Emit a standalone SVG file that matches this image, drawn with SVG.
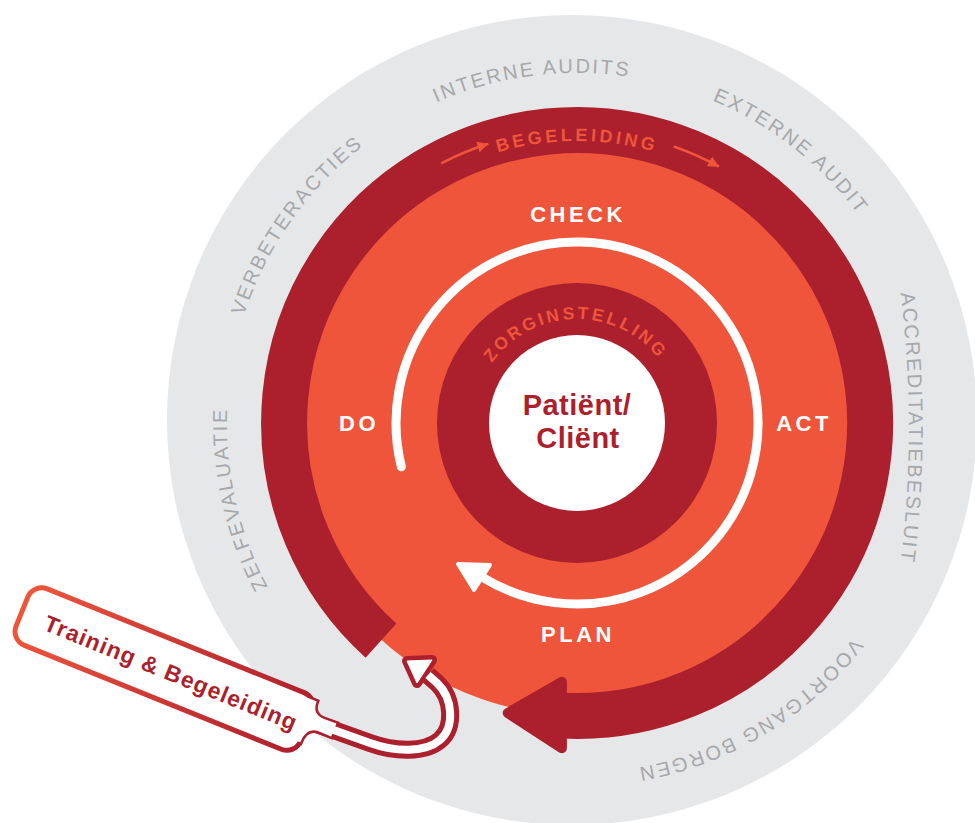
<svg xmlns="http://www.w3.org/2000/svg" width="975" height="823" viewBox="0 0 975 823">
<defs>
<style>
.ring-label{font-family:"Liberation Sans",Arial,sans-serif;font-size:20px;fill:#a6a8ab;letter-spacing:2.3px}
.pdca{font-family:"Liberation Sans",Arial,sans-serif;font-size:22px;font-weight:bold;fill:#ffffff;letter-spacing:3.5px;text-anchor:middle}
.arc-label{font-family:"Liberation Sans",Arial,sans-serif;fill:#ee553b;font-weight:bold}
.center-label{font-family:"Liberation Sans",Arial,sans-serif;font-size:29px;font-weight:bold;fill:#ac1f2d;letter-spacing:0.5px;text-anchor:middle}
.callout-label{font-family:"Liberation Sans",Arial,sans-serif;font-size:23px;font-weight:bold;fill:#ac1f2d;letter-spacing:1px}
.dark{fill:#ac1f2d}
.orange{fill:#ee553b}
.small-arrow{fill:none;stroke:#ee553b;stroke-width:2.5;marker-end:url(#ah)}
</style>
<marker id="ah" markerUnits="userSpaceOnUse" viewBox="0 0 10 10" markerWidth="11" markerHeight="11" refX="10" refY="5" orient="auto">
<path d="M0,0 L10,5 L0,10 z" fill="#ee553b"/>
</marker>
<linearGradient id="cg" gradientUnits="userSpaceOnUse" x1="0" y1="0" x2="312" y2="0">
<stop offset="0" stop-color="#ee553b"/>
<stop offset="1" stop-color="#ac1f2d"/>
</linearGradient>
<path id="p-verbeter" d="M232.1,482.6 A350,350 0 0 1 517.4,78.1"/>
<path id="p-interne" d="M299.3,209.9 A350,350 0 0 1 790.1,145.3"/>
<path id="p-externe" d="M535.6,75.5 A350,350 0 0 1 924.5,381.6"/>
<path id="p-accred" d="M896,260 A1100,1100 0 0 1 896,596"/>
<path id="p-voortgang" d="M916.6,507.7 A350,350 0 0 1 492.3,762.6"/>
<path id="p-zelf" d="M390.0,718.9 A350,350 0 0 1 281.1,236.0"/>
<path id="p-begel" d="M377.6,223.6 A282,282 0 0 1 776.4,223.6"/>
<path id="p-zorg" d="M473,425 A104,104 0 0 1 681,421"/>
<path id="tube" d="M300,718 L370,743 C395,752 425,753 440,740 C455,727 453,698 437,683 L428,675"/>
</defs>

<g id="outer-ring">
<circle cx="572" cy="420" r="405" fill="#e6e7e8"/>
<text class="ring-label"><textPath href="#p-verbeter" startOffset="50%" text-anchor="middle">VERBETERACTIES</textPath></text>
<text class="ring-label"><textPath href="#p-interne" startOffset="50%" text-anchor="middle">INTERNE AUDITS</textPath></text>
<text class="ring-label"><textPath href="#p-externe" startOffset="50%" text-anchor="middle">EXTERNE AUDIT</textPath></text>
<text class="ring-label"><textPath href="#p-accred" startOffset="50%" text-anchor="middle">ACCREDITATIEBESLUIT</textPath></text>
<text class="ring-label"><textPath href="#p-voortgang" startOffset="50%" text-anchor="middle">VOORTGANG BORGEN</textPath></text>
<text class="ring-label"><textPath href="#p-zelf" startOffset="50%" text-anchor="middle">ZELFEVALUATIE</textPath></text>
</g>

<g id="begeleiding-ring">
<circle cx="577" cy="423" r="292" class="orange"/>
<path d="M381,640.7 A293,293 0 1 1 561.7,715.6" fill="none" stroke="#ac1f2d" stroke-width="46"/>
<polygon points="561.9,681.8 561.9,748.2 507.7,713" class="dark" stroke="#ac1f2d" stroke-width="10" stroke-linejoin="round"/>
<text class="arc-label" font-size="18" letter-spacing="3.3"><textPath href="#p-begel" startOffset="50%" text-anchor="middle">BEGELEIDING</textPath></text>
</g>

<g id="connectors">
<path class="small-arrow" d="M441.2,163.3 A293,293 0 0 1 488.4,143.7"/>
<path class="small-arrow" d="M673.8,146.5 A293,293 0 0 1 719.0,166.7"/>
<path d="M401.4,466.8 A181,181 0 1 1 481.1,576.5" fill="none" stroke="#ffffff" stroke-width="9" stroke-linecap="round"/>
<polygon points="458,564 490,565 474,590" fill="#ffffff" stroke="#ffffff" stroke-width="4" stroke-linejoin="round"/>
</g>

<g id="pdca-labels">
<text class="pdca" x="578" y="222">CHECK</text>
<text class="pdca" x="359" y="431">DO</text>
<text class="pdca" x="804" y="431">ACT</text>
<text class="pdca" x="578" y="642">PLAN</text>
</g>

<g id="zorginstelling">
<circle cx="577" cy="423" r="140" class="dark"/>
<text class="arc-label" font-size="17.5" letter-spacing="2.9"><textPath href="#p-zorg" startOffset="50%" text-anchor="middle">ZORGINSTELLING</textPath></text>
</g>

<g id="patient">
<circle cx="577" cy="423" r="88" fill="#ffffff"/>
<text class="center-label" x="577" y="415">Patiënt/</text>
<text class="center-label" x="578" y="448">Cliënt</text>
</g>

<g id="training-callout">
<use href="#tube" fill="none" stroke="#ac1f2d" stroke-width="18"/>
<polygon points="407,661 432,660 417,683" class="dark" stroke="#ac1f2d" stroke-width="10" stroke-linejoin="round"/>
<g transform="translate(32,580) rotate(22)">
<path d="M295,6 L309.5,6 Q309.5,19.5 323,19.5 L336,19 L336,33 L323,33 Q309.5,33 309.5,50 L295,50 Z" fill="#ffffff" stroke="#ac1f2d" stroke-width="5"/>
<rect x="2.5" y="2.5" width="307" height="61" rx="15" fill="#ffffff" stroke="url(#cg)" stroke-width="5"/>
<path d="M295,6 L309.5,6 Q309.5,19.5 323,19.5 L336,19 L336,33 L323,33 Q309.5,33 309.5,50 L295,50 Z" fill="#ffffff"/>
</g>
<use href="#tube" fill="none" stroke="#ffffff" stroke-width="8"/>
<polygon points="407,661 432,660 417,683" fill="#ffffff" stroke="#ffffff" stroke-width="1" stroke-linejoin="round"/>
<g transform="translate(32,580) rotate(22)">
<text class="callout-label" x="28" y="42">Training &amp; Begeleiding</text>
</g>
</g>
</svg>
